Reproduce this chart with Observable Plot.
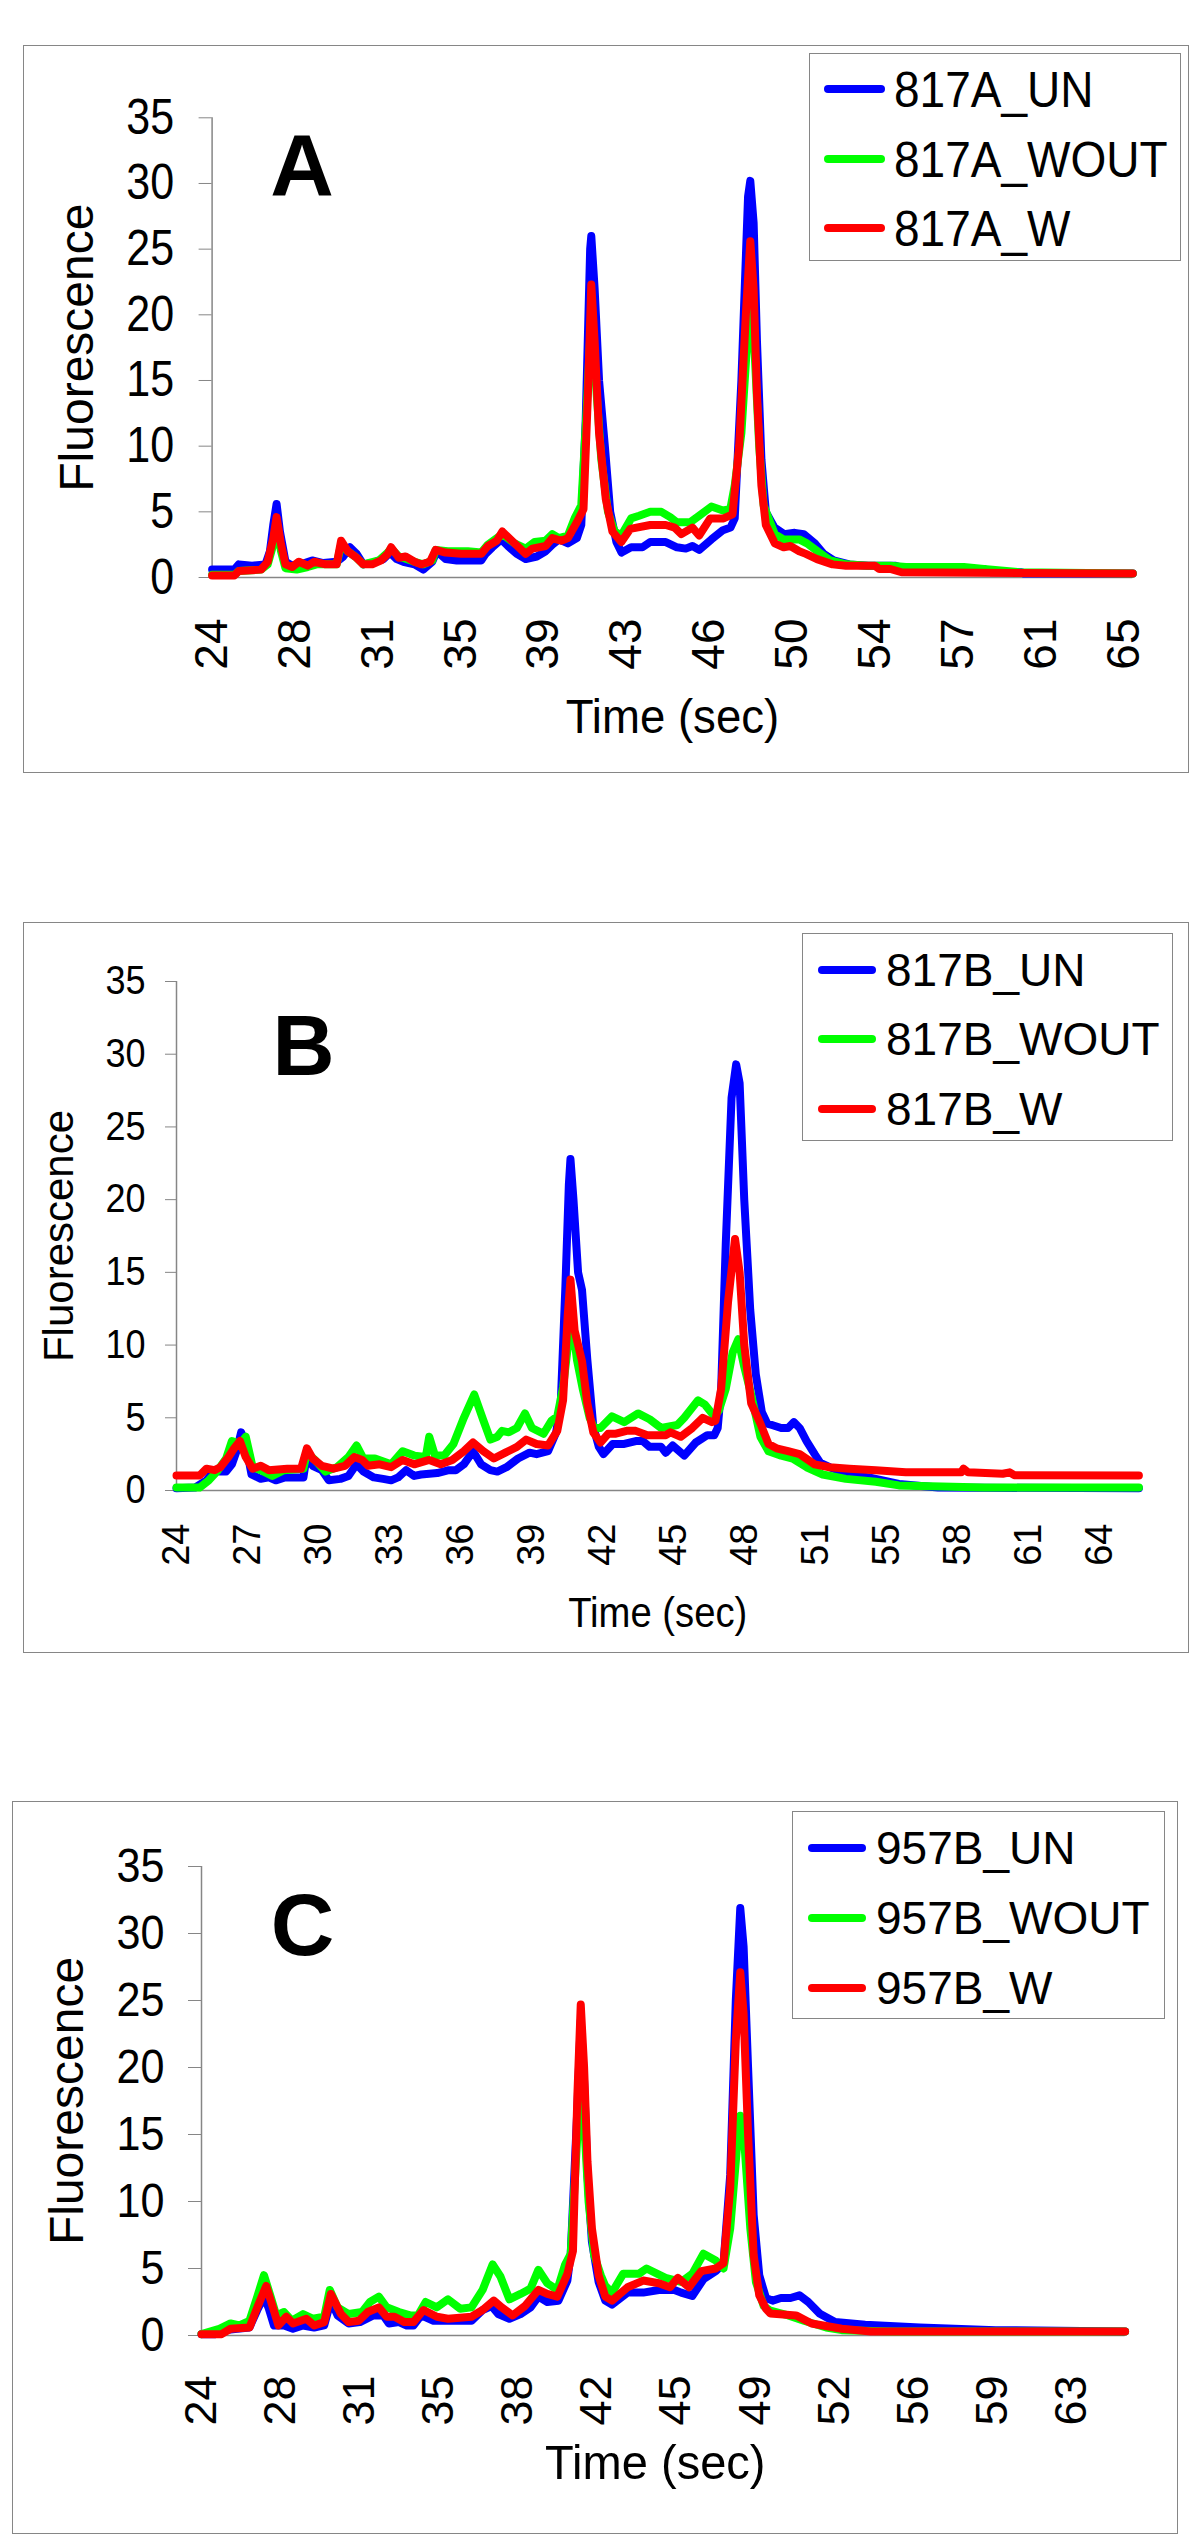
<!DOCTYPE html>
<html><head><meta charset="utf-8">
<script src="https://cdn.jsdelivr.net/npm/d3@7"></script>
<script src="https://cdn.jsdelivr.net/npm/@observablehq/plot@0.6"></script>
<style>
html,body{margin:0;padding:0;background:#fff;}
#page{position:relative;width:1200px;height:2546px;overflow:hidden;font-family:"Liberation Sans",Arial,sans-serif;}
.frame{position:absolute;border:1px solid #868686;box-sizing:border-box;}
.chart{position:absolute;}
.chart svg{display:block;}
.chart svg text{fill:#000;}
.legend{position:absolute;border:1px solid #868686;box-sizing:border-box;background:#fff;}
.swatch{position:absolute;height:8px;border-radius:4px;}
.lab{position:absolute;white-space:nowrap;line-height:1;color:#000;transform-origin:0 50%;}
</style></head><body><div id="page"></div>
<script>
// ---------- data ----------
const seriesColors = ["#0000FF", "#00FF00", "#FF0000"];
const yTicks = [0, 5, 10, 15, 20, 25, 30, 35];

const ticksA = ["24","28","31","35","39","43","46","50","54","57","61","65"];
const ticksB = ["24","27","30","33","36","39","42","45","48","51","55","58","61","64"];
const ticksC = ["24","28","31","35","38","42","45","49","52","56","59","63"];

const legendA = ["817A_UN", "817A_WOUT", "817A_W"];
const legendB = ["817B_UN", "817B_WOUT", "817B_W"];
const legendC = ["957B_UN", "957B_WOUT", "957B_W"];

const A_UN = [[24,0.6],[25,0.6],[25.2,1],[25.8,0.9],[26.4,1],[26.6,2],[26.75,4],[26.9,5.6],[27.05,3.5],[27.3,1.2],[27.6,0.9],[28,1],[28.5,1.3],[29,1.1],[29.6,1.2],[29.9,1.6],[30.2,2.3],[30.5,1.8],[30.8,1],[31.2,1.1],[31.7,1.4],[32,1.9],[32.3,1.4],[32.6,1.2],[33.1,1],[33.5,0.6],[33.9,1.2],[34.1,2],[34.5,1.4],[35,1.3],[36.1,1.3],[36.3,1.8],[36.6,2.3],[37,2.9],[37.3,2.4],[37.7,1.8],[38.1,1.4],[38.6,1.6],[39,2],[39.3,2.5],[39.6,2.9],[40,2.6],[40.4,3],[40.6,4],[40.8,12],[41,25],[41.05,26],[41.2,22],[41.4,15],[41.66,10],[41.9,5],[42.18,2.7],[42.41,1.9],[42.84,2.3],[43.35,2.3],[43.7,2.7],[44.4,2.7],[44.9,2.3],[45.3,2.2],[45.6,2.4],[45.9,2.1],[46.45,2.9],[46.97,3.6],[47.31,3.8],[47.5,4.5],[47.8,15],[48.1,29],[48.2,30.2],[48.35,27],[48.5,18],[48.7,9],[48.9,5],[49.29,3.8],[49.72,3.3],[50.2,3.4],[50.6,3.3],[51.1,2.6],[51.5,1.8],[51.95,1.3],[52.65,1],[53.5,0.9],[54.7,0.9],[55.2,0.65],[58.7,0.65],[59,0.4],[60.4,0.4],[60.5,0.3],[65.4,0.3]];
const A_WOUT = [[24,0.2],[25,0.2],[25.2,0.5],[26.2,0.6],[26.5,1],[26.75,2.5],[26.9,4],[27.1,2],[27.3,0.7],[27.8,0.6],[28.3,0.8],[28.7,1],[29.6,1],[29.8,2.5],[30.1,2],[30.5,1.5],[30.8,1],[31.5,1.3],[31.9,1.9],[32.05,2.2],[32.4,1.6],[33.1,1.2],[33.5,1],[33.9,1.3],[34.05,2.1],[34.6,2],[35.5,2],[36.1,1.9],[36.4,2.5],[36.8,3],[37.05,3.3],[37.6,2.6],[38.1,2.2],[38.5,2.7],[39,2.8],[39.3,3.3],[39.6,3],[40,3.2],[40.3,4.5],[40.6,5.5],[40.85,13],[41.05,20],[41.25,15],[41.5,9],[41.8,5],[42.1,3.5],[42.4,3.2],[42.84,4.5],[43.2,4.7],[43.7,5],[44.2,5],[44.6,4.6],[44.9,4.2],[45.5,4.2],[45.9,4.7],[46.45,5.4],[46.97,5.1],[47.3,5.2],[47.5,7],[47.8,11],[48.1,19],[48.25,20.6],[48.4,17],[48.6,10],[48.8,5.5],[49.3,3.3],[49.7,2.9],[50.4,2.9],[50.75,2.6],[51.3,1.9],[51.8,1.3],[52.5,1],[53.5,0.9],[54.5,0.9],[55.2,0.8],[57.8,0.8],[58.7,0.65],[60.3,0.4],[65.4,0.3]];
const A_W = [[24,0.15],[25,0.15],[25.2,0.5],[26.2,0.6],[26.5,1.2],[26.75,3],[26.9,4.6],[27.1,2.5],[27.3,1],[27.6,0.8],[27.9,1.2],[28.3,0.9],[28.6,1.2],[29.1,1],[29.6,1],[29.8,2.8],[30.1,2],[30.5,1.5],[30.8,1],[31.2,1],[31.6,1.3],[31.9,1.8],[32.05,2.3],[32.4,1.5],[32.7,1.6],[33.1,1.2],[33.4,1],[33.8,1.2],[34.05,2.1],[34.5,1.9],[35.2,1.8],[36.1,1.8],[36.4,2.4],[36.8,2.8],[37.05,3.5],[37.6,2.6],[38.1,1.8],[38.4,2.2],[39,2.4],[39.3,3],[39.7,2.8],[40,3],[40.4,4.2],[40.7,5.2],[40.9,14],[41.05,22.3],[41.2,18],[41.4,11],[41.7,6],[42,3.5],[42.4,2.7],[42.8,3.7],[43.7,4],[44.4,4],[44.8,3.8],[45.1,3.3],[45.6,3.8],[45.9,3.2],[46.4,4.5],[47,4.5],[47.4,4.8],[47.7,10],[48,20],[48.2,25.6],[48.35,22],[48.5,14],[48.7,7],[48.9,4],[49.3,2.6],[49.7,2.3],[50,2.4],[50.4,2],[50.7,1.8],[51.2,1.4],[51.9,1],[52.5,0.9],[53.8,0.9],[54,0.65],[54.5,0.65],[55,0.4],[65.4,0.3]];

const B_UN = [[24,0.15],[24.8,0.2],[25.3,0.7],[25.65,1.4],[25.9,1.3],[26.15,1.3],[26.4,1.8],[26.6,2.7],[26.8,4],[27,3.2],[27.25,1.1],[27.65,0.8],[28,0.9],[28.3,0.7],[28.7,0.9],[29.5,0.9],[29.65,2.5],[29.9,1.7],[30.3,1.4],[30.6,0.7],[31.1,0.8],[31.45,1],[31.8,1.8],[32.1,1.3],[32.55,0.9],[32.95,0.8],[33.3,0.7],[33.6,0.9],[33.95,1.4],[34.3,1],[34.6,1.1],[35.3,1.2],[35.8,1.4],[36.1,1.4],[36.45,1.8],[36.85,2.7],[37.2,1.8],[37.6,1.4],[37.9,1.3],[38.3,1.6],[38.8,2.2],[39.3,2.6],[39.6,2.5],[40.1,2.7],[40.45,4],[40.65,6],[40.85,14],[41,21],[41.07,22.8],[41.2,20],[41.4,15],[41.57,13.8],[41.8,9],[42.06,4.4],[42.3,3],[42.5,2.5],[42.9,3.2],[43.4,3.2],[43.9,3.4],[44.2,3.4],[44.5,3],[45,3],[45.2,2.6],[45.5,3.1],[46,2.4],[46.5,3.3],[47,3.8],[47.3,3.8],[47.45,4.3],[47.6,7],[47.8,17],[48.05,27],[48.25,29.3],[48.4,28],[48.6,20],[48.86,12.4],[49.1,8],[49.36,5.4],[49.6,4.6],[49.8,4.5],[50.2,4.3],[50.5,4.3],[50.75,4.7],[51,4.3],[51.3,3.4],[51.65,2.5],[51.9,1.9],[52.3,1.6],[53.15,1.1],[54,0.9],[54.6,0.7],[55.3,0.45],[57,0.2],[65.7,0.15]];
const B_WOUT = [[24,0.2],[25,0.2],[25.4,0.7],[25.75,1.3],[26.15,2.2],[26.4,3.4],[26.75,3.2],[27,3.7],[27.3,1.6],[27.65,1.4],[28.15,1],[28.65,1.4],[29.5,1.5],[29.65,2.6],[30,2.1],[30.45,1.3],[30.95,1.6],[31.45,2.3],[31.8,3.1],[32.1,2.2],[32.6,2.2],[33.3,1.8],[33.8,2.7],[34.3,2.4],[34.8,2.3],[34.95,3.7],[35.2,2.4],[35.6,2.4],[36,3.2],[36.45,5],[36.9,6.6],[37.3,4.8],[37.6,3.5],[37.9,3.7],[38.1,4.1],[38.4,4],[38.75,4.3],[39.1,5.3],[39.4,4.3],[39.9,3.9],[40.25,4.8],[40.5,5.1],[40.75,7.1],[41,10.5],[41.15,11.5],[41.35,9],[41.6,7],[41.9,5],[42.1,4.3],[42.37,4.3],[42.87,5.1],[43.4,4.7],[44,5.3],[44.5,4.9],[45,4.3],[45.7,4.5],[46,5],[46.6,6.2],[46.9,5.9],[47.3,5.1],[47.5,5.5],[47.8,7],[48.1,9.5],[48.34,10.4],[48.6,8.5],[48.9,6.6],[49.3,3.7],[49.65,2.7],[50.2,2.4],[50.7,2.2],[51.3,1.6],[52,1.1],[53,0.8],[54.3,0.6],[55.3,0.35],[59,0.2],[65.7,0.2]];
const B_W = [[24,1.03],[25,1.03],[25.3,1.5],[25.65,1.4],[25.9,1.6],[26.25,2.3],[26.5,2.9],[26.75,3.4],[27,2.3],[27.3,1.5],[27.65,1.7],[28,1.4],[28.8,1.5],[29.4,1.5],[29.65,2.9],[29.9,2.2],[30.3,1.7],[30.8,1.5],[31.3,1.7],[31.7,2.3],[32.05,2.1],[32.3,1.7],[32.8,1.8],[33.3,1.6],[33.8,2.1],[34.3,1.8],[34.95,2.1],[35.45,1.8],[35.95,2.1],[36.45,2.7],[36.85,3.3],[37.3,2.7],[37.75,2.2],[38.25,2.6],[38.75,3],[39.15,3.5],[39.6,3.2],[40.1,3.1],[40.5,4.1],[40.75,6.2],[40.95,12],[41.07,14.5],[41.25,11],[41.57,8.9],[41.8,6],[42.06,4],[42.37,3.3],[42.7,3.9],[43,3.9],[43.5,4.1],[43.9,4.1],[44.4,3.8],[45.2,3.8],[45.4,4],[45.85,3.7],[46.35,4.3],[46.8,5],[47.2,4.7],[47.35,4.8],[47.6,7],[47.9,13],[48.2,17.3],[48.4,15],[48.6,10],[48.9,6],[49.3,4.6],[49.65,3.2],[50,2.9],[50.5,2.7],[51,2.5],[51.65,1.8],[52.3,1.6],[53.15,1.5],[54.3,1.4],[55.6,1.25],[58,1.25],[58.1,1.5],[58.3,1.25],[59.8,1.15],[60.1,1.25],[60.3,1.05],[65.7,1.03]];

const C_UN = [[24,0.1],[24.6,0.1],[25.1,0.4],[25.6,0.5],[26.15,0.6],[26.5,1.9],[26.8,2.9],[27,2.1],[27.25,0.75],[27.7,0.75],[28.1,0.5],[28.55,0.75],[29.05,0.6],[29.5,0.75],[29.8,2.6],[30.1,1.5],[30.6,0.9],[31.1,1],[31.7,1.5],[32.15,1.5],[32.4,0.9],[32.85,1],[33.2,0.75],[33.5,0.75],[33.85,1.5],[34.4,1.1],[36.1,1.1],[36.6,1.9],[37,2.2],[37.3,1.6],[37.8,1.25],[38.3,1.6],[38.75,2.1],[39.1,2.9],[39.5,2.5],[40,2.6],[40.4,4.1],[40.55,6.1],[40.85,17],[41,23.5],[41.15,19],[41.3,12],[41.5,7],[41.8,4],[42.1,2.6],[42.4,2.3],[43.1,3.2],[43.8,3.2],[44.5,3.4],[45.2,3.4],[45.5,3.2],[46,2.95],[46.5,4.2],[47.05,4.8],[47.4,5.4],[47.7,12],[47.95,25],[48.15,31.9],[48.3,29],[48.5,20],[48.75,9],[49,4.5],[49.3,2.8],[49.6,2.6],[49.97,2.8],[50.4,2.8],[50.8,3],[51.2,2.5],[51.7,1.65],[52.4,1],[53.75,0.8],[56.2,0.6],[59.6,0.4],[65.4,0.3]];
const C_WOUT = [[24,0.1],[24.8,0.5],[25.3,0.9],[25.7,0.75],[26.15,1.1],[26.5,2.9],[26.8,4.5],[27.1,2.9],[27.35,1.5],[27.7,1.75],[28.05,1.1],[28.55,1.6],[29,1.25],[29.5,1.4],[29.75,3.4],[30.1,2.1],[30.6,1.6],[31.2,1.75],[31.55,2.5],[31.95,2.9],[32.3,2.1],[32.85,1.75],[33.35,1.5],[33.7,1.5],[34.05,2.5],[34.55,2.1],[35.05,2.7],[35.6,2],[36.1,2.1],[36.6,3.4],[37.05,5.3],[37.4,4.4],[37.8,2.7],[38.3,3.1],[38.75,3.5],[39.1,4.9],[39.5,3.9],[39.95,3.4],[40.3,5.3],[40.55,6.1],[40.85,15],[41,20],[41.15,16],[41.35,10],[41.6,6],[41.9,4.5],[42.1,3.7],[42.4,3.2],[42.9,4.6],[43.6,4.6],[43.95,5],[44.8,4.3],[45.5,4],[46,4.6],[46.5,6.1],[47.05,5.6],[47.4,5],[47.7,8],[48,14],[48.15,16.4],[48.35,14],[48.6,8],[48.85,4],[49.2,2.2],[49.5,1.85],[50.3,1.5],[51,1.1],[52,0.6],[52.7,0.4],[55,0.3],[65.4,0.3]];
const C_W = [[24,0.1],[24.9,0.1],[25.3,0.5],[26.15,0.6],[26.5,2.1],[26.9,3.7],[27.2,2.1],[27.45,0.75],[27.8,1.4],[28.1,0.9],[28.45,1.1],[28.7,1.25],[29.05,0.75],[29.5,1],[29.8,3.1],[30.25,1.6],[30.6,1],[31.05,1.1],[31.45,1.75],[31.95,2.1],[32.3,1.4],[32.65,1.4],[33.1,1],[33.5,1],[33.95,1.9],[34.55,1.4],[35.05,1.25],[36.1,1.4],[36.6,1.9],[37.1,2.6],[37.45,2.1],[37.95,1.5],[38.5,2.2],[39.1,3.4],[39.5,3.1],[39.95,2.9],[40.4,4.6],[40.65,6.3],[40.85,18],[41,24.7],[41.15,20],[41.3,13],[41.5,8],[41.8,4.5],[42.1,2.9],[42.4,2.6],[43.1,3.6],[43.8,4.1],[44.5,3.9],[45,3.6],[45.35,4.3],[45.85,3.6],[46.4,4.8],[47.05,5],[47.4,5.4],[47.7,11],[47.95,22],[48.15,27.1],[48.3,24],[48.5,15],[48.75,6],[49,3],[49.3,2],[49.5,1.65],[50.65,1.5],[51.35,0.9],[52.7,0.5],[54,0.3],[65.4,0.3]];

// ---------- layout ----------
const panels = [
  {letter:"A", series:[A_UN,A_WOUT,A_W], ticks:ticksA, legend:legendA, xEnd:65.4,
   frame:{left:23, top:45, width:1166, height:728},
   m:{left:188.6, right:56.7, top:72.3, bottom:196},
   xFont:46, yFont:50, yCond:0.86, yTickSize:13, yPad:25, xPad:41,
   letterPos:{dx:90, dy:15, size:88}, yLab:{dx:-134, size:48},
   xLab:{dx:0, dy:121, size:49, cond:0.93},
   lg:{left:809, top:53, width:372, height:208, x1:823, x2:884, ys:[89,159,228], tx:894, size:50, cond:0.92}},
  {letter:"B", series:[B_UN,B_WOUT,B_W], ticks:ticksB, legend:legendB, xEnd:65.7,
   frame:{left:23, top:922, width:1166, height:731},
   m:{left:153, right:50.6, top:59, bottom:163},
   xFont:38, yFont:40, yCond:0.9, yTickSize:11, yPad:20, xPad:33,
   letterPos:{dx:127, dy:32, size:86}, yLab:{dx:-117, size:42},
   xLab:{dx:0, dy:107, size:42, cond:0.91},
   lg:{left:802, top:933, width:371, height:208, x1:817, x2:875, ys:[970,1039,1109], tx:886, size:46, cond:1}},
  {letter:"C", series:[C_UN,C_WOUT,C_W], ticks:ticksC, legend:legendC, xEnd:65.4,
   frame:{left:12, top:1801, width:1166, height:733},
   m:{left:189, right:53.4, top:65, bottom:199},
   xFont:45, yFont:49, yCond:0.88, yTickSize:13, yPad:24, xPad:40,
   letterPos:{dx:101, dy:26, size:88}, yLab:{dx:-134, size:48},
   xLab:{dx:-8, dy:109, size:49, cond:0.96},
   lg:{left:792, top:1811, width:373, height:208, x1:807, x2:865, ys:[1848,1918,1988], tx:876, size:46, cond:1}}
];

const page = document.getElementById("page");
const FONT = '"Liberation Sans", Arial, sans-serif';

function px(el, o) { for (const k in o) el.style[k] = o[k] + "px"; }
function condense(t, f) {
  const L = t.getComputedTextLength();
  if (L > 0 && f !== 1) { t.setAttribute("textLength", (L * f).toFixed(2)); t.setAttribute("lengthAdjust", "spacingAndGlyphs"); }
}

for (const p of panels) {
  const fr = document.createElement("div");
  fr.className = "frame";
  px(fr, p.frame);
  page.appendChild(fr);

  const n = p.ticks.length;
  const step = (+p.ticks[n - 1] - 24) / (n - 1);
  const tickPos = p.ticks.map((_, i) => 24 + i * step);
  const fmt = d => p.ticks[Math.round((d - 24) / step)];

  const svg = Plot.plot({
    width: p.frame.width,
    height: p.frame.height,
    marginLeft: p.m.left, marginRight: p.m.right, marginTop: p.m.top, marginBottom: p.m.bottom,
    style: {fontFamily: FONT, fontSize: p.xFont + "px", color: "#868686", background: "transparent", overflow: "visible"},
    x: {domain: [24, p.xEnd], ticks: tickPos, tickFormat: fmt, tickSize: 0, tickPadding: p.xPad, tickRotate: -90, label: null},
    y: {domain: [0, 35], ticks: yTicks, tickSize: p.yTickSize, tickPadding: p.yPad, label: null},
    marks: [
      Plot.ruleY([0], {stroke: "#868686", strokeWidth: 1.5}),
      Plot.ruleX([24], {stroke: "#868686", strokeWidth: 1.5}),
      ...p.series.map((s, k) => Plot.line(s, {x: d => d[0], y: d => d[1], stroke: seriesColors[k], strokeWidth: 8, strokeLinejoin: "round", strokeLinecap: "round"})),
      Plot.text([p.letter], {text: d => d, frameAnchor: "top-left", dx: p.letterPos.dx, dy: p.letterPos.dy, fontSize: p.letterPos.size, fontWeight: "bold", textAnchor: "middle", lineAnchor: "top", fill: "#000"}),
      Plot.text(["Fluorescence"], {text: d => d, frameAnchor: "left", dx: p.yLab.dx, rotate: -90, fontSize: p.yLab.size, textAnchor: "middle", lineAnchor: "middle", fill: "#000"}),
      Plot.text(["Time (sec)"], {text: d => d, frameAnchor: "bottom", dx: p.xLab.dx, dy: p.xLab.dy, fontSize: p.xLab.size, textAnchor: "middle", lineAnchor: "top", fill: "#000"})
    ]
  });
  const wrap = document.createElement("div");
  wrap.className = "chart";
  px(wrap, {left: p.frame.left, top: p.frame.top, width: p.frame.width, height: p.frame.height});
  wrap.appendChild(svg);
  page.appendChild(wrap);

  // y tick labels: larger, horizontally condensed like the original
  svg.querySelectorAll('[aria-label="y-axis tick label"] text, [aria-label="y-axis"] .tick text').forEach(t => {
    t.setAttribute("font-size", p.yFont);
    condense(t, p.yCond);
  });
  svg.querySelectorAll("text").forEach(t => {
    if (t.textContent === "Time (sec)") condense(t, p.xLab.cond);
  });

  const lg = document.createElement("div");
  lg.className = "legend";
  px(lg, {left: p.lg.left, top: p.lg.top, width: p.lg.width, height: p.lg.height});
  p.legend.forEach((name, k) => {
    const sw = document.createElement("div");
    sw.className = "swatch";
    sw.style.background = seriesColors[k];
    px(sw, {left: p.lg.x1 - p.lg.left, top: p.lg.ys[k] - p.lg.top - 4 - 1, width: p.lg.x2 - p.lg.x1});
    lg.appendChild(sw);
    const t = document.createElement("div");
    t.className = "lab";
    t.textContent = name;
    t.style.fontFamily = FONT;
    t.style.transform = "scaleX(" + p.lg.cond + ")";
    px(t, {left: p.lg.tx - p.lg.left - 1, top: p.lg.ys[k] - p.lg.top - 1 - 0.49 * p.lg.size, fontSize: p.lg.size});
    lg.appendChild(t);
  });
  page.appendChild(lg);
}
</script></body></html>
